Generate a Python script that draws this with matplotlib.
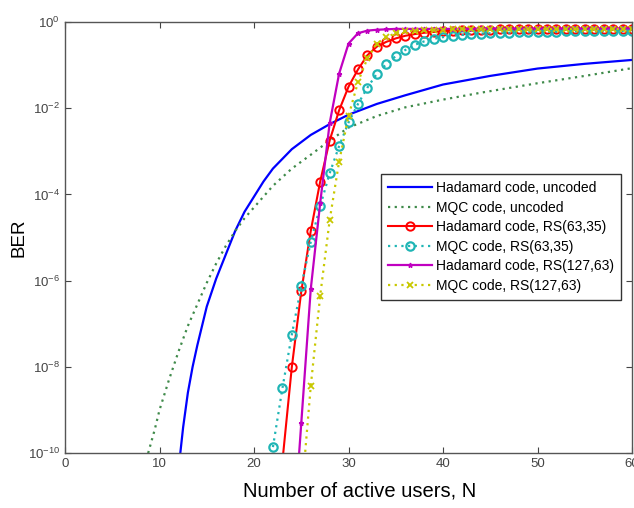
import matplotlib
matplotlib.use('Agg')
import matplotlib.pyplot as plt
import numpy as np

plt.rcParams['font.family'] = ['Liberation Sans', 'DejaVu Sans']
plt.rcParams['mathtext.fontset'] = 'custom'
plt.rcParams['mathtext.rm'] = 'Liberation Sans'
plt.rcParams['mathtext.it'] = 'Liberation Sans'

# BER, stored as log10(BER)
n_had_unc = [12.2, 12.5, 13, 13.5, 14, 15, 16, 17, 18, 19, 20, 21, 22, 24, 26, 28,
             30, 33, 36, 40, 45, 50, 55, 60]
lg_had_unc = [-10, -9.4, -8.6, -8.0, -7.5, -6.6, -5.95, -5.4, -4.85, -4.4, -4.05, -3.7,
              -3.4, -2.95, -2.62, -2.37, -2.15, -1.9, -1.7, -1.45, -1.25, -1.08, -0.97, -0.88]

n_mqc_unc = [8.8, 9.5, 10, 11, 12, 13, 14, 15, 16, 17, 18, 19, 20, 22, 24, 26, 28, 30,
             33, 36, 40, 44, 50, 55, 60]
lg_mqc_unc = [-10, -9.45, -9.0, -8.3, -7.65, -7.05, -6.55, -6.05, -5.6, -5.2, -4.85, -4.55,
              -4.3, -3.8, -3.4, -3.08, -2.75, -2.45, -2.18, -1.98, -1.8, -1.64, -1.42,
              -1.25, -1.07]

n_had_rs63 = list(range(23, 61))
lg_had_rs63 = [-10.2, -8.0, -6.25, -4.85, -3.7, -2.75, -2.05, -1.5, -1.1, -0.77, -0.57,
               -0.46, -0.38, -0.32, -0.28, -0.25, -0.23, -0.21, -0.2, -0.19, -0.19, -0.18,
               -0.18, -0.17, -0.17, -0.17, -0.17, -0.17, -0.16, -0.16, -0.16, -0.16, -0.16,
               -0.16, -0.16, -0.16, -0.16, -0.16]

n_mqc_rs63 = list(range(22, 61))
lg_mqc_rs63 = [-9.86, -8.5, -7.25, -6.13, -5.1, -4.27, -3.51, -2.88, -2.33, -1.9, -1.52,
               -1.2, -0.98, -0.79, -0.65, -0.53, -0.45, -0.39, -0.35, -0.32, -0.3, -0.28,
               -0.27, -0.26, -0.25, -0.25, -0.24, -0.24, -0.23, -0.23, -0.23, -0.22, -0.22,
               -0.22, -0.22, -0.21, -0.21, -0.21, -0.21]

n_had_rs127 = list(range(24, 61))
lg_had_rs127 = [-12.4, -9.3, -6.2, -4.2, -2.35, -1.2, -0.5, -0.26, -0.2, -0.18, -0.17,
                -0.16, -0.16, -0.16, -0.16, -0.16, -0.16, -0.16, -0.16, -0.16, -0.15, -0.15,
                -0.15, -0.15, -0.15, -0.15, -0.15, -0.15, -0.15, -0.15, -0.15, -0.15, -0.15,
                -0.15, -0.15, -0.15, -0.15]

n_mqc_rs127 = list(range(25, 61))
lg_mqc_rs127 = [-11.05, -8.45, -6.35, -4.6, -3.24, -2.18, -1.39, -0.84, -0.5, -0.35, -0.26,
                -0.22, -0.2, -0.19, -0.18, -0.18, -0.17, -0.17, -0.17, -0.17, -0.17, -0.17,
                -0.17, -0.17, -0.17, -0.17, -0.16, -0.16, -0.16, -0.16, -0.16, -0.16, -0.16,
                -0.16, -0.16, -0.16]

labels = ['Hadamard code, uncoded', 'MQC code, uncoded', 'Hadamard code, RS(63,35)',
          'MQC code, RS(63,35)', 'Hadamard code, RS(127,63)', 'MQC code, RS(127,63)']

fig = plt.figure(figsize=(6.34, 5.08), dpi=100)
ax = fig.add_axes([0.1025, 0.108, 0.8945, 0.8487])

dot = (0, (1, 2))
ax.semilogy(n_had_unc, 10.0 ** np.array(lg_had_unc), color='#0000ff', lw=1.6, label=labels[0])
ax.semilogy(n_mqc_unc, 10.0 ** np.array(lg_mqc_unc), color='#3f8a4a', lw=1.6, ls=dot, label=labels[1])
ax.semilogy(n_had_rs63, 10.0 ** np.array(lg_had_rs63), color='#ff0000', lw=1.5, marker='o',
            ms=6, mfc='none', mew=1.4, label=labels[2])
ax.semilogy(n_mqc_rs63, 10.0 ** np.array(lg_mqc_rs63), color='#1fb5b5', lw=1.6, ls=dot, marker='o',
            ms=6, mfc='none', mew=1.6, label=labels[3])
ax.semilogy(n_had_rs127, 10.0 ** np.array(lg_had_rs127), color='#c000c0', lw=1.6, marker='*',
            ms=3.5, label=labels[4])
ax.semilogy(n_mqc_rs127, 10.0 ** np.array(lg_mqc_rs127), color='#c8c800', lw=1.6, ls=dot, marker='x',
            ms=4, mew=1.3, label=labels[5])

ax.set_xlim(0, 60)
ax.set_ylim(1e-10, 1)
ax.set_xticks(range(0, 61, 10))
yt = [1e-10, 1e-8, 1e-6, 1e-4, 1e-2, 1]
ax.set_yticks(yt)
ax.set_yticklabels(['$10^{-10}$', '$10^{-8}$', '$10^{-6}$', '$10^{-4}$', '$10^{-2}$', '$10^{0}$'])
ax.minorticks_off()
ax.tick_params(direction='in', top=True, right=True, length=4, width=0.8,
               labelsize=9.5, labelcolor='#444444', color='#444444')
for s in ax.spines.values():
    s.set_color('#555555')
    s.set_linewidth(1.0)

ax.set_xlabel('Number of active users, N', fontsize=14.5)
ax.xaxis.set_label_coords(0.52, -0.065)
ax.set_ylabel('BER', fontsize=13.5)
ax.yaxis.set_label_coords(-0.066, 0.5)

leg = ax.legend(loc='upper left', bbox_to_anchor=(0.557, 0.647), borderaxespad=0,
                fontsize=10, fancybox=False, framealpha=1, edgecolor='#333333',
                handlelength=3.2, handletextpad=0.25, labelspacing=0.4, borderpad=0.5)
leg.get_frame().set_linewidth(1.0)

fig.savefig('out.png', dpi=100)
